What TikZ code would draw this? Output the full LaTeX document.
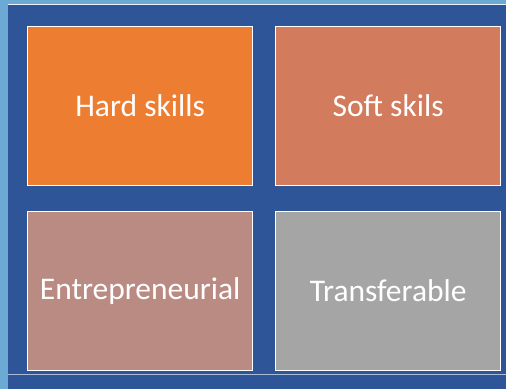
\documentclass[tikz,border=0pt]{standalone}
\usepackage{fontspec}
\setmainfont{Carlito}
\definecolor{frameblue}{HTML}{2E5597}
\definecolor{edgeblue}{HTML}{6DA9D5}
\definecolor{hardc}{HTML}{ED7D31}
\definecolor{softc}{HTML}{D37B5D}
\definecolor{entc}{HTML}{B98B82}
\definecolor{transc}{HTML}{A5A5A5}
\tikzset{
  tile/.style={draw=white, line width=1.3pt, minimum width=225pt, minimum height=159pt,
    inner sep=0pt, text=white, font=\fontsize{31.5}{36}\selectfont, anchor=north west},
}
\begin{document}
\begin{tikzpicture}[x=1pt,y=1pt]
  \useasboundingbox (0,0) rectangle (506,389);
  % backdrop
  \fill[edgeblue] (0,0) rectangle (506,389);
  \fill[frameblue] (8,0) rectangle (506,384.5);
  \draw[white!85!edgeblue, line width=1pt] (8,384.5) -- (506,384.5);
  \draw[white!60!frameblue, line width=1pt] (8,14.5) -- (506,14.5);
  % four tiles
  \node[tile, fill=hardc]  (hard)  at (27,363)  {Hard skills};
  \node[tile, fill=softc]  (soft)  at (275,363) {Soft skils};
  \node[tile, fill=entc]   (ent)   at (27,178)  {Entrepreneurial};
  \node[tile, fill=transc] (trans) at (275,178) {Transferable};
\end{tikzpicture}
\end{document}
